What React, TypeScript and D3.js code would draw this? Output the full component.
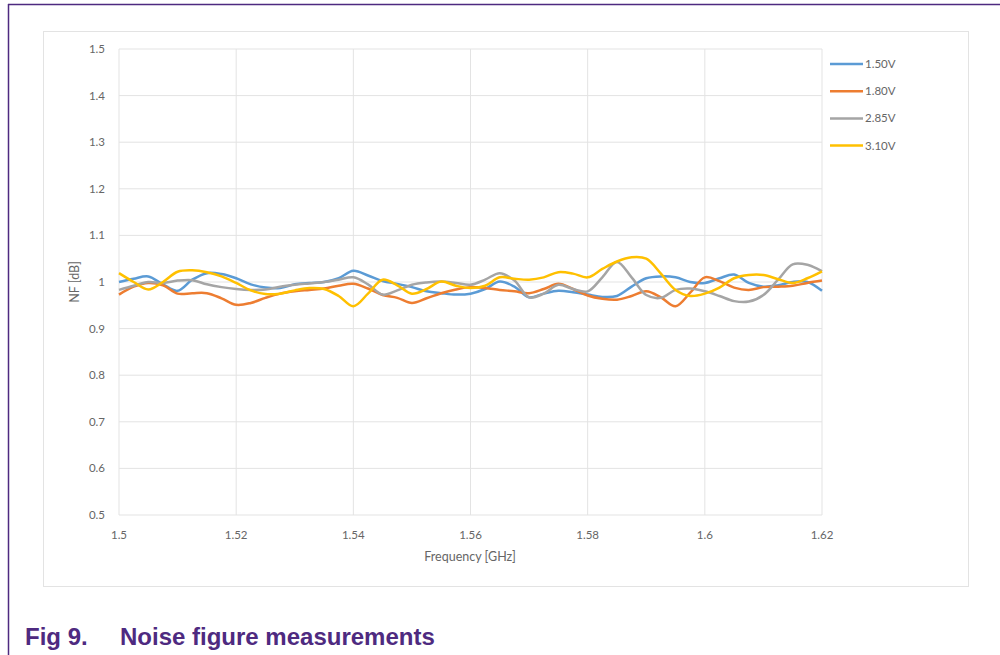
import * as d3 from "d3";

// frequency grid, 2.5 MHz steps from 1.50 to 1.62 GHz
const freqs = d3.range(49).map((i) => +(1.5 + i * 0.0025).toFixed(4));

const nf150 = [
  1.0, 1.007, 1.012, 0.995, 0.981, 1.005, 1.019, 1.017, 1.008, 0.995, 0.988, 0.987, 0.995,
  0.998, 1.0, 1.008, 1.024, 1.014, 1.002, 0.996, 0.989, 0.98, 0.976, 0.973, 0.975, 0.985,
  1.001, 0.99, 0.967, 0.975, 0.981, 0.978, 0.973, 0.968, 0.97, 0.99, 1.008, 1.012, 1.01,
  1.0, 0.998, 1.008, 1.016, 0.998, 0.99, 0.993, 1.0, 1.0, 0.981,
];
const nf180 = [
  0.973, 0.99, 0.998, 0.993, 0.975, 0.976, 0.976, 0.965, 0.951, 0.955, 0.966, 0.975, 0.98,
  0.983, 0.986, 0.992, 0.996, 0.986, 0.972, 0.966, 0.955, 0.965, 0.976, 0.984, 0.989, 0.987,
  0.983, 0.98, 0.976, 0.985, 0.996, 0.985, 0.971, 0.964, 0.962, 0.97, 0.98, 0.967, 0.948,
  0.977, 1.01, 1.002, 0.988, 0.983, 0.989, 0.99, 0.992, 0.998, 1.003,
];
const nf285 = [
  0.983, 0.992, 1.0, 0.998, 1.003, 1.004, 0.995, 0.989, 0.985, 0.983, 0.984, 0.99, 0.994,
  0.997, 1.0, 1.005, 1.01, 0.995, 0.973, 0.982, 0.994, 0.999, 1.001, 0.998, 0.994, 1.005,
  1.019, 1.003, 0.967, 0.975, 0.994, 0.985, 0.98, 1.01, 1.043, 1.01, 0.972, 0.966, 0.983,
  0.986, 0.98, 0.97, 0.959, 0.958, 0.972, 1.005, 1.038, 1.037, 1.023,
];
const nf310 = [
  1.019, 1.0, 0.984, 1.0, 1.022, 1.025, 1.021, 1.012, 0.998, 0.982, 0.974, 0.975, 0.982,
  0.987, 0.985, 0.97, 0.948, 0.975, 1.005, 0.993, 0.975, 0.985, 1.001, 0.992, 0.987, 0.992,
  1.01, 1.007, 1.005, 1.01, 1.021, 1.018, 1.01, 1.028, 1.044, 1.053, 1.05, 1.018, 0.983,
  0.97, 0.975, 0.988, 1.008, 1.015, 1.015, 1.006, 0.998, 1.008, 1.023,
];

const seriesNames = ["1.50V", "1.80V", "2.85V", "3.10V"];
const seriesValues = [nf150, nf180, nf285, nf310];
const colors = ["#5b9bd5", "#ed7d31", "#a5a5a5", "#ffc000"];

const xTicks = [1.5, 1.52, 1.54, 1.56, 1.58, 1.6, 1.62];
const yTicks = [0.5, 0.6, 0.7, 0.8, 0.9, 1, 1.1, 1.2, 1.3, 1.4, 1.5];

const W = 1000;
const H = 655;
const plot = { left: 119, right: 822, top: 49, bottom: 515 };
const purple = "#4e2a80";
const font = "Lato, 'Open Sans', sans-serif";

export default function App() {
  const x = d3.scaleLinear().domain([1.5, 1.62]).range([plot.left, plot.right]);
  const y = d3.scaleLinear().domain([0.5, 1.5]).range([plot.bottom, plot.top]);

  const line = d3
    .line<number>()
    .x((_, i) => x(freqs[i]))
    .y((d) => y(d))
    .curve(d3.curveCatmullRom.alpha(0.5));

  return (
    <div style={{ position: "fixed", left: 0, top: 0 }}>
      <svg width={W} height={H} style={{ display: "block", background: "#fff" }}>
        {/* page frame */}
        <line x1={8} y1={4.5} x2={W} y2={4.5} stroke={purple} strokeWidth={1.5} />
        <line x1={8.5} y1={4} x2={8.5} y2={H} stroke={purple} strokeWidth={1.5} />

        {/* chart area */}
        <rect x={43.5} y={31.5} width={925} height={555} fill="#fff" stroke="#e3e3e3" />

        {/* grid */}
        {yTicks.map((t) => (
          <line
            key={"gy" + t}
            x1={plot.left}
            x2={plot.right}
            y1={y(t)}
            y2={y(t)}
            stroke="#e3e3e3"
            strokeWidth={1}
          />
        ))}
        {xTicks.map((t) => (
          <line
            key={"gx" + t}
            x1={x(t)}
            x2={x(t)}
            y1={plot.top}
            y2={plot.bottom}
            stroke="#e3e3e3"
            strokeWidth={1}
          />
        ))}

        {/* tick labels */}
        {yTicks.map((t) => (
          <text
            key={"ty" + t}
            x={105}
            y={y(t)}
            dy="0.35em"
            textAnchor="end"
            fontFamily={font}
            fontSize={11.5}
            fill="#666"
          >
            {d3.format("")(t)}
          </text>
        ))}
        {xTicks.map((t) => (
          <text
            key={"tx" + t}
            x={x(t)}
            y={539}
            textAnchor="middle"
            fontFamily={font}
            fontSize={11.5}
            fill="#666"
          >
            {d3.format("")(t)}
          </text>
        ))}

        {/* axis titles */}
        <text
          x={470}
          y={561}
          textAnchor="middle"
          fontFamily={font}
          fontSize={12.5}
          fill="#666"
        >
          Frequency [GHz]
        </text>
        <text
          transform={`translate(79,${y(1)}) rotate(-90)`}
          textAnchor="middle"
          fontFamily={font}
          fontSize={12.5}
          fill="#666"
        >
          NF [dB]
        </text>

        {/* series */}
        {seriesValues.map((vals, k) => (
          <path
            key={seriesNames[k]}
            d={line(vals) ?? ""}
            fill="none"
            stroke={colors[k]}
            strokeWidth={2.5}
            strokeLinejoin="round"
          />
        ))}

        {/* legend */}
        {seriesNames.map((name, k) => (
          <g key={"lg" + name} transform={`translate(830,${64 + k * 27.2})`}>
            <line x1={0} x2={33} y1={0} y2={0} stroke={colors[k]} strokeWidth={2.5} />
            <text x={35} y={0} dy="0.35em" fontFamily={font} fontSize={11.5} fill="#666">
              {name}
            </text>
          </g>
        ))}

        {/* caption */}
        <text
          x={25}
          y={645}
          fontFamily="'Liberation Sans', Arial, sans-serif"
          fontWeight="bold"
          fontSize={24}
          fill={purple}
        >
          Fig 9.
        </text>
        <text
          x={120}
          y={645}
          fontFamily="'Liberation Sans', Arial, sans-serif"
          fontWeight="bold"
          fontSize={24}
          fill={purple}
        >
          Noise figure measurements
        </text>
      </svg>
    </div>
  );
}
